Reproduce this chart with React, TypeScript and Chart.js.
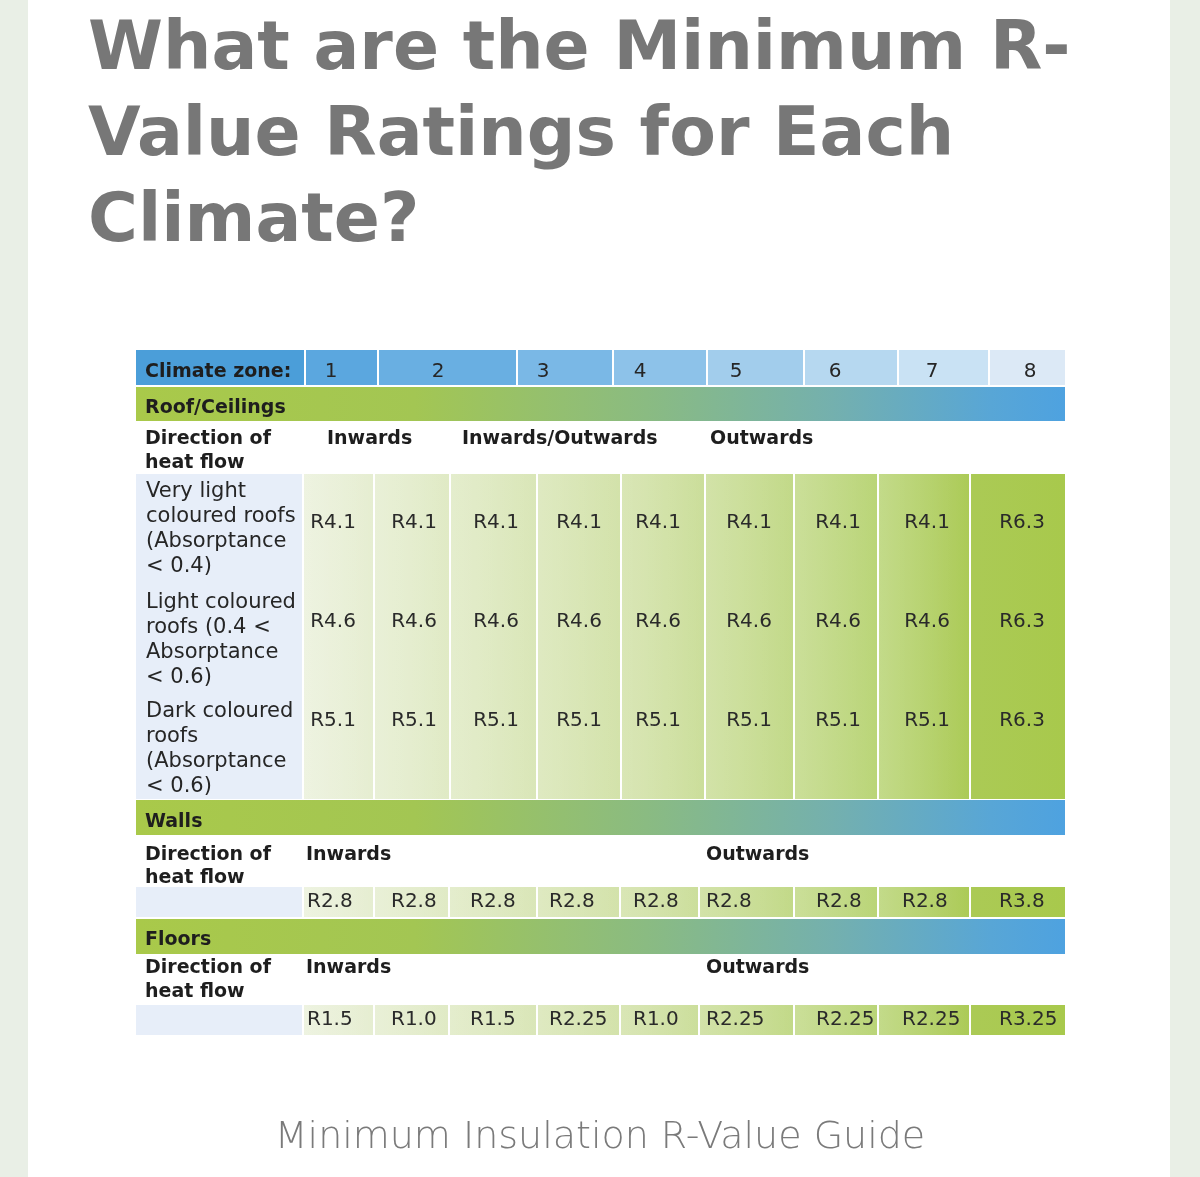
import React, { useEffect, useRef } from 'react';
import { Chart, registerables } from 'chart.js';

Chart.register(...registerables);

// ---------------- data ----------------
const TITLE_LINES = ['What are the Minimum R-', 'Value Ratings for Each', 'Climate?'];
const CAPTION = 'Minimum Insulation R-Value Guide';
const ZONE_HEADER = 'Climate zone:';
const ZONES = ['1', '2', '3', '4', '5', '6', '7', '8'];
const SECTIONS = ['Roof/Ceilings', 'Walls', 'Floors'];
const DIRECTION_LABEL = ['Direction of', 'heat flow'];
const ROOF_DIRECTIONS = ['Inwards', 'Inwards/Outwards', 'Outwards'];
const WALL_DIRECTIONS = ['Inwards', 'Outwards'];
const FLOOR_DIRECTIONS = ['Inwards', 'Outwards'];
const ROOF_TYPES = [
  ['Very light', 'coloured roofs', '(Absorptance', '< 0.4)'],
  ['Light coloured', 'roofs (0.4 <', 'Absorptance', '< 0.6)'],
  ['Dark coloured', 'roofs', '(Absorptance', '< 0.6)'],
];
const ROOF_VERY_LIGHT = [4.1, 4.1, 4.1, 4.1, 4.1, 4.1, 4.1, 4.1, 6.3];
const ROOF_LIGHT = [4.6, 4.6, 4.6, 4.6, 4.6, 4.6, 4.6, 4.6, 6.3];
const ROOF_DARK = [5.1, 5.1, 5.1, 5.1, 5.1, 5.1, 5.1, 5.1, 6.3];
const WALL_VALUES = [2.8, 2.8, 2.8, 2.8, 2.8, 2.8, 2.8, 2.8, 3.8];
const FLOOR_VALUES = [1.5, 1.0, 1.5, 2.25, 1.0, 2.25, 2.25, 2.25, 3.25];

// ---------------- layout (page units) ----------------
const W = 1200;
const H = 1177;
const TL = 136;
const TR = 1065;
const LC = 303;
const HEADER_EDGES = [136, 305, 378, 517, 613, 707, 804, 898, 989, 1065];
const ZONE_TEXT_X = [331, 438, 543, 640, 736, 835, 932, 1030];
const ROOF_EDGES = [303, 374, 450, 537, 621, 705, 794, 878, 970, 1065];
const ROOF_TEXT_X = [333, 414, 496, 579, 658, 749, 838, 927, 1022];
const ROW_EDGES = [303, 374, 449, 537, 620, 699, 794, 878, 970, 1065];
const ROW_TEXT_X = [307, 391, 470, 549, 633, 706, 816, 902, 999];
const ROOF_DIR_X = [327, 462, 710];
const WF_DIR_X = [306, 706];
const TEXT_X = 145;

const HEADER_Y = [350, 385];
const HEADER_BASE = 377;
const ROOF_BAR_Y = [387, 421];
const ROOF_BAR_BASE = 413;
const ROOF_DIR_BASE = [444, 468];
const ROOF_BLOCK_Y = [474, 799];
const ROOF_TYPE_BASE = [[497, 522, 547, 572], [608, 633, 658, 683], [717, 742, 767, 792]];
const ROOF_VALUE_MID = [523, 622, 721];
const WALL_BAR_Y = [800, 835];
const WALL_BAR_BASE = 827;
const WALL_DIR_BASE = [860, 883];
const WALL_ROW_Y = [887, 917];
const WALL_VALUE_MID = 902;
const FLOOR_BAR_Y = [919, 954];
const FLOOR_BAR_BASE = 945;
const FLOOR_DIR_BASE = [973, 997];
const FLOOR_ROW_Y = [1005, 1035];
const FLOOR_VALUE_MID = 1020;

// ---------------- styles ----------------
const FONT = '"DejaVu Sans", "Noto Sans", sans-serif';
const SIDE = '#e9efe6';
const HEADER_COLORS = ['#4b9ed9', '#5ba7df', '#69afe2', '#7ab8e6', '#8dc2e9', '#a2cdec', '#b6d8f0', '#c9e2f4', '#dce9f6'];
const LABEL_BG = '#e7eef9';
const TEXT_DARK = '#1e1e1e';
const VALUE_TEXT = '#2a2a2a';

const fmt = (v: number) => 'R' + (Number.isInteger(v) ? v.toFixed(1) : String(v));

const tablePlugin = {
  id: 'rvalueTable',
  beforeDatasetsDraw(chart: any) {
    const ctx = chart.ctx as CanvasRenderingContext2D;
    const sx = chart.scales.x;
    const sy = chart.scales.y;
    const X = (v: number) => sx.getPixelForValue(v);
    const Y = (v: number) => sy.getPixelForValue(v);
    const rect = (x0: number, x1: number, y0: number, y1: number, fill: any) => {
      ctx.fillStyle = fill;
      ctx.fillRect(X(x0), Y(y0), X(x1) - X(x0), Y(y1) - Y(y0));
    };
    const seps = (edges: number[], y0: number, y1: number) => {
      ctx.fillStyle = '#ffffff';
      edges.forEach((e) => ctx.fillRect(X(e) - 1, Y(y0), 2, Y(y1) - Y(y0)));
    };
    const sheen = (edges: number[], y0: number, y1: number) => {
      for (let i = 0; i < edges.length - 2; i++) {
        const g = ctx.createLinearGradient(X(edges[i]), 0, X(edges[i + 1]), 0);
        g.addColorStop(0, 'rgba(255,255,255,0.14)');
        g.addColorStop(1, 'rgba(255,255,255,0)');
        rect(edges[i], edges[i + 1], y0, y1, g);
      }
    };
    ctx.save();
    rect(0, 28, 0, H, SIDE);
    rect(1170, W, 0, H, SIDE);

    // header row
    for (let i = 0; i < HEADER_EDGES.length - 1; i++) {
      rect(HEADER_EDGES[i], HEADER_EDGES[i + 1], HEADER_Y[0], HEADER_Y[1], HEADER_COLORS[i]);
    }
    seps(HEADER_EDGES.slice(1, -1), HEADER_Y[0], HEADER_Y[1]);

    // section bars
    const bar = ctx.createLinearGradient(X(TL), 0, X(TR), 0);
    bar.addColorStop(0, '#a9c94a');
    bar.addColorStop(0.3, '#a3c653');
    bar.addColorStop(0.55, '#8abb82');
    bar.addColorStop(0.75, '#74b0ae');
    bar.addColorStop(0.92, '#58a6d6');
    bar.addColorStop(1, '#4ea2e0');
    [ROOF_BAR_Y, WALL_BAR_Y, FLOOR_BAR_Y].forEach((b) => rect(TL, TR, b[0], b[1], bar));

    // value gradient
    const val = ctx.createLinearGradient(X(LC), 0, X(TR), 0);
    val.addColorStop(0, '#ebf1dc');
    val.addColorStop(0.45, '#d1e1a6');
    val.addColorStop(0.75, '#bad578');
    val.addColorStop(0.88, '#abca55');
    val.addColorStop(1, '#a8c94c');

    // roof block
    rect(TL, LC, ROOF_BLOCK_Y[0], ROOF_BLOCK_Y[1], LABEL_BG);
    rect(LC, TR, ROOF_BLOCK_Y[0], ROOF_BLOCK_Y[1], val);
    sheen(ROOF_EDGES, ROOF_BLOCK_Y[0], ROOF_BLOCK_Y[1]);
    seps(ROOF_EDGES.slice(0, -1), ROOF_BLOCK_Y[0], ROOF_BLOCK_Y[1]);

    // walls + floors rows
    [WALL_ROW_Y, FLOOR_ROW_Y].forEach((r) => {
      rect(TL, LC, r[0], r[1], LABEL_BG);
      rect(LC, TR, r[0], r[1], val);
      sheen(ROW_EDGES, r[0], r[1]);
      seps(ROW_EDGES.slice(0, -1), r[0], r[1]);
    });
    ctx.restore();
  },
  afterDatasetsDraw(chart: any) {
    const ctx = chart.ctx as CanvasRenderingContext2D;
    const sx = chart.scales.x;
    const sy = chart.scales.y;
    const X = (v: number) => sx.getPixelForValue(v);
    const Y = (v: number) => sy.getPixelForValue(v);
    const text = (s: string, x: number, y: number, font: string, align: CanvasTextAlign = 'left') => {
      ctx.font = font;
      ctx.textAlign = align;
      ctx.textBaseline = 'alphabetic';
      ctx.fillText(s, X(x), Y(y));
    };
    const BOLD = `bold 19px ${FONT}`;
    const REG = `21px ${FONT}`;
    const VAL = `20px ${FONT}`;
    ctx.save();
    ctx.fillStyle = TEXT_DARK;

    text(ZONE_HEADER, TEXT_X, HEADER_BASE, BOLD);
    ctx.fillStyle = '#262626';
    ZONES.forEach((z, i) => text(z, ZONE_TEXT_X[i], HEADER_BASE, `20px ${FONT}`, 'center'));
    ctx.fillStyle = TEXT_DARK;

    text(SECTIONS[0], TEXT_X, ROOF_BAR_BASE, BOLD);
    text(SECTIONS[1], TEXT_X, WALL_BAR_BASE, BOLD);
    text(SECTIONS[2], TEXT_X, FLOOR_BAR_BASE, BOLD);

    [ROOF_DIR_BASE, WALL_DIR_BASE, FLOOR_DIR_BASE].forEach((b) => {
      text(DIRECTION_LABEL[0], TEXT_X, b[0], BOLD);
      text(DIRECTION_LABEL[1], TEXT_X, b[1], BOLD);
    });
    ROOF_DIRECTIONS.forEach((d, i) => text(d, ROOF_DIR_X[i], ROOF_DIR_BASE[0], BOLD));
    WALL_DIRECTIONS.forEach((d, i) => text(d, WF_DIR_X[i], WALL_DIR_BASE[0], BOLD));
    FLOOR_DIRECTIONS.forEach((d, i) => text(d, WF_DIR_X[i], FLOOR_DIR_BASE[0], BOLD));

    ctx.fillStyle = '#262626';
    ROOF_TYPES.forEach((lines, r) => lines.forEach((l, k) => text(l, 146, ROOF_TYPE_BASE[r][k], REG)));

    // values from dataset elements
    ctx.fillStyle = VALUE_TEXT;
    chart.data.datasets.forEach((ds: any, di: number) => {
      const meta = chart.getDatasetMeta(di);
      meta.data.forEach((el: any, j: number) => {
        ctx.font = VAL;
        ctx.textAlign = ds.textAlign;
        ctx.textBaseline = 'middle';
        ctx.fillText(fmt(ds.data[j].v), el.x, el.y);
      });
    });
    ctx.restore();
  },
};

export default function App() {
  const canvasRef = useRef<HTMLCanvasElement | null>(null);

  useEffect(() => {
    const canvas = canvasRef.current;
    if (!canvas) return;
    const roofSeries = [ROOF_VERY_LIGHT, ROOF_LIGHT, ROOF_DARK];
    const datasets: any[] = roofSeries.map((vals, r) => ({
      label: ROOF_TYPES[r].join(' '),
      data: vals.map((v, i) => ({ x: ROOF_TEXT_X[i], y: ROOF_VALUE_MID[r], v })),
      pointRadius: 0,
      textAlign: 'center',
    }));
    datasets.push({
      label: SECTIONS[1],
      data: WALL_VALUES.map((v, i) => ({ x: ROW_TEXT_X[i], y: WALL_VALUE_MID, v })),
      pointRadius: 0,
      textAlign: 'left',
    });
    datasets.push({
      label: SECTIONS[2],
      data: FLOOR_VALUES.map((v, i) => ({ x: ROW_TEXT_X[i], y: FLOOR_VALUE_MID, v })),
      pointRadius: 0,
      textAlign: 'left',
    });
    const chart = new Chart(canvas, {
      type: 'scatter',
      data: { datasets },
      options: {
        animation: false,
        responsive: false,
        devicePixelRatio: 1,
        events: [],
        layout: { padding: 0 },
        plugins: { legend: { display: false }, tooltip: { enabled: false }, title: { display: false } },
        scales: {
          x: { type: 'linear', display: false, min: 0, max: W },
          y: { type: 'linear', display: false, min: 0, max: H, reverse: true },
        },
      } as any,
      plugins: [tablePlugin as any],
    });
    return () => chart.destroy();
  }, []);

  return (
    <div style={{ position: 'relative', width: W, height: H, overflow: 'hidden', background: '#ffffff' }}>
      <style>{'body{margin:0;}'}</style>
      <canvas ref={canvasRef} width={W} height={H} style={{ position: 'absolute', left: 0, top: 0, width: W, height: H }} />
      <div
        style={{
          position: 'absolute',
          left: 88,
          top: 3,
          fontFamily: FONT,
          fontWeight: 700,
          fontSize: 68,
          lineHeight: '86px',
          color: '#777777',
          whiteSpace: 'nowrap',
        }}
      >
        {TITLE_LINES.map((l) => (
          <div key={l}>{l}</div>
        ))}
      </div>
      <div
        style={{
          position: 'absolute',
          left: 0,
          width: W,
          top: 1116,
          textAlign: 'center',
          fontFamily: FONT,
          fontWeight: 200,
          fontSize: 38,
          lineHeight: '38px',
          color: '#7a7a7a',
          whiteSpace: 'nowrap',
        }}
      >
        {CAPTION}
      </div>
    </div>
  );
}
